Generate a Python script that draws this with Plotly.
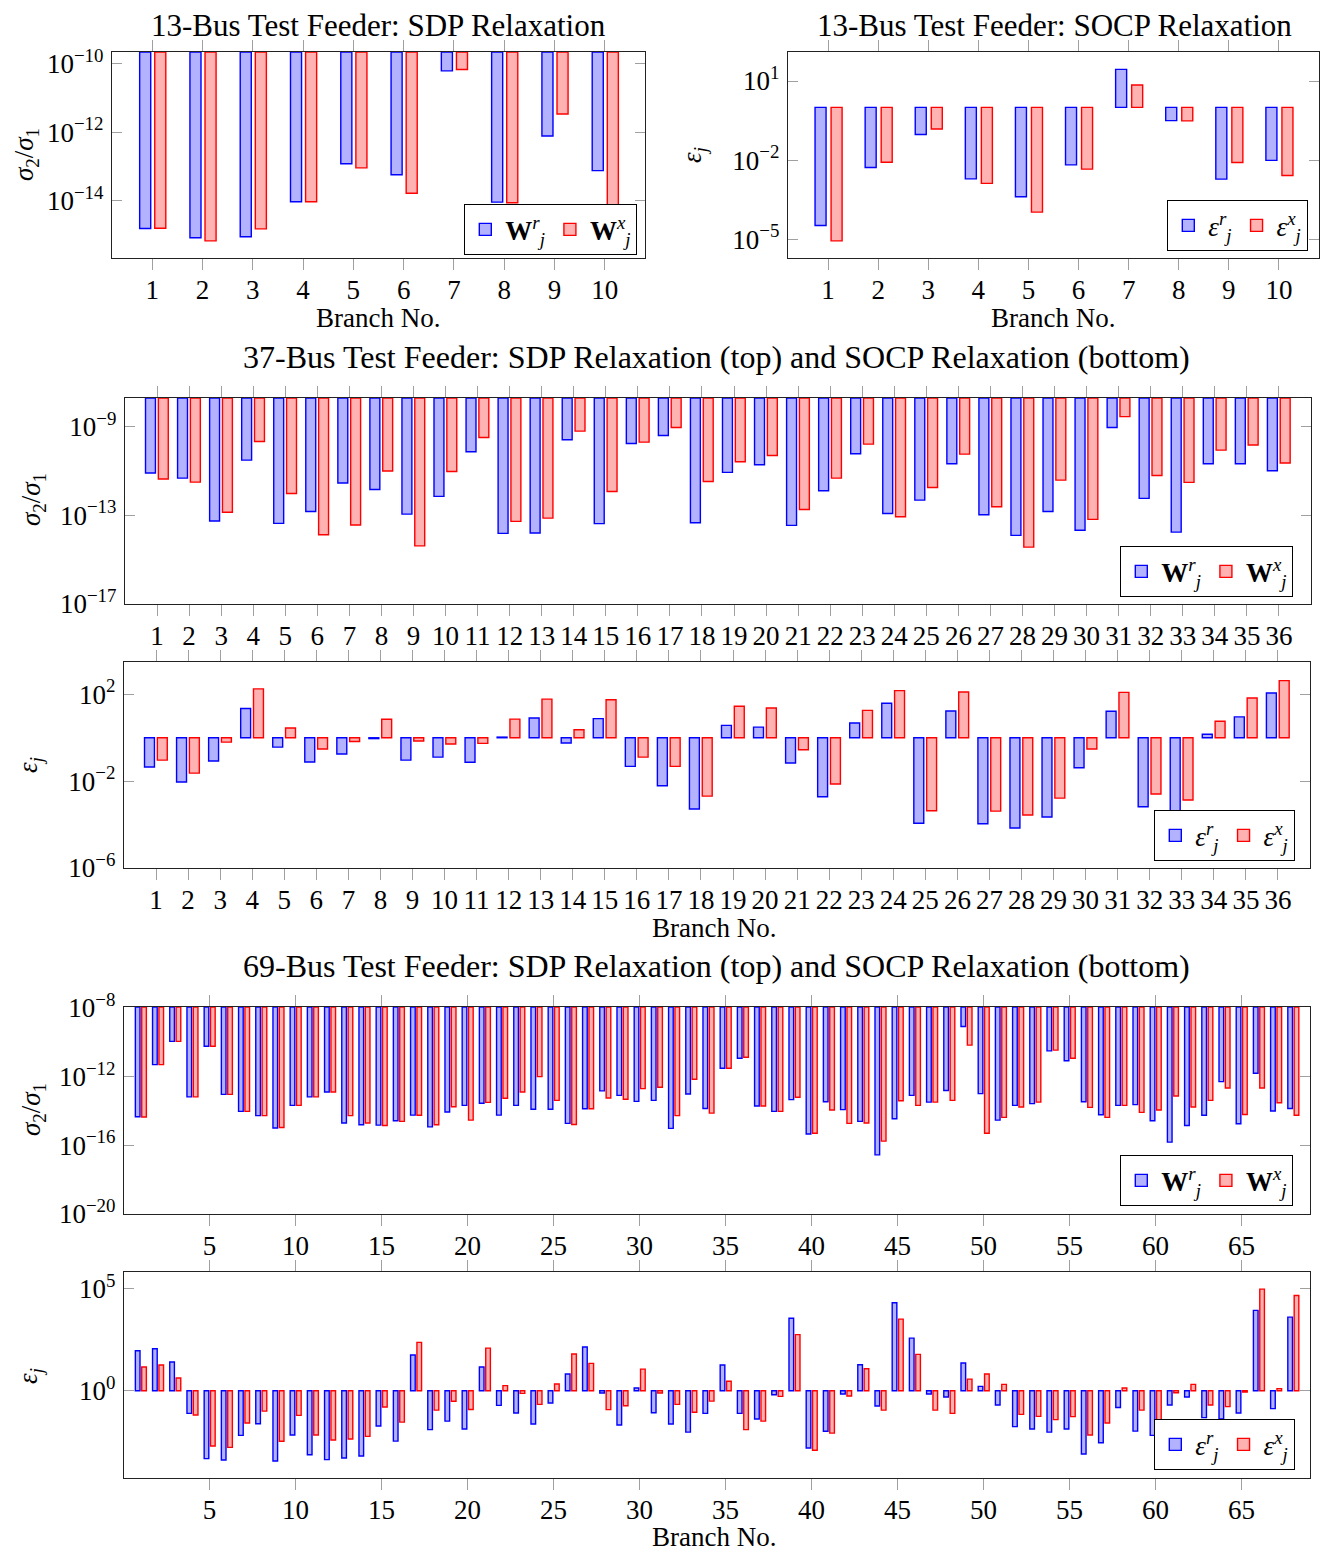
import plotly.graph_objects as go

FONT = "Liberation Serif"
# page body has an 8px margin; the figure starts at (8, 8) in the window
OX, OY = 8, 8
W, H = 1335 - OX, 1551 - OY

# ---------------- data (log10 of the plotted values) ----------------
branches13 = list(range(1, 11))
branches37 = list(range(1, 37))
branches69 = list(range(1, 69))

# 13-bus, SDP relaxation: sigma2/sigma1
sdp13_wr = [-14.81, -15.08, -15.05, -14.03, -12.92, -13.24, -10.21, -14.04, -12.11, -13.12]
sdp13_wx = [-14.80, -15.17, -14.82, -14.03, -13.04, -13.78, -10.17, -14.06, -11.47, -14.17]
# 13-bus, SOCP relaxation: epsilon_j
socp13_er = [-4.48, -2.28, -1.03, -2.71, -3.39, -2.18, 1.44, -0.50, -2.72, -2.01]
socp13_ex = [-5.06, -2.08, -0.82, -2.88, -3.97, -2.34, 0.85, -0.51, -2.09, -2.58]

# 37-bus, SDP relaxation
sdp37_wr = [-11.10, -11.33, -13.26, -10.52, -13.37, -12.83, -11.55, -11.84, -12.95, -12.15,
            -10.14, -13.82, -13.80, -9.60, -13.38, -9.77, -9.41, -13.34, -11.07, -10.73,
            -13.46, -11.90, -10.23, -12.92, -12.32, -10.68, -12.98, -13.91, -12.83, -13.68,
            -9.05, -12.24, -13.76, -10.68, -10.68, -11.00]
sdp37_wx = [-11.37, -11.51, -12.87, -9.68, -12.02, -13.88, -13.44, -11.01, -14.38, -11.03,
            -9.50, -13.28, -13.13, -9.21, -11.93, -9.71, -9.05, -11.48, -10.59, -10.31,
            -12.74, -11.33, -9.80, -13.07, -11.75, -10.25, -12.62, -14.44, -11.42, -13.19,
            -8.56, -11.21, -11.52, -10.07, -9.84, -10.65]
# 37-bus, SOCP relaxation
socp37_er = [-1.35, -2.04, -1.07, 1.35, -0.43, -1.12, -0.75, -0.04, -1.03, -0.89,
             -1.13, 0.03, 0.91, -0.24, 0.88, -1.32, -2.21, -3.28, 0.57, 0.49,
             -1.16, -2.72, 0.68, 1.59, -3.94, 1.23, -3.96, -4.16, -3.65, -1.38,
             1.22, -3.18, -3.45, 0.16, 0.96, 2.06]
socp37_ex = [-1.03, -1.63, -0.20, 2.25, 0.45, -0.52, -0.17, 0.85, -0.15, -0.29,
             -0.26, 0.86, 1.78, 0.37, 1.75, -0.89, -1.32, -2.69, 1.45, 1.37,
             -0.55, -2.13, 1.26, 2.17, -3.36, 2.11, -3.38, -3.56, -2.78, -0.52,
             2.09, -2.59, -2.87, 0.76, 1.83, 2.63]

# 69-bus, SDP relaxation
sdp69_wr = [-14.34, -11.31, -9.96, -13.19, -10.24, -13.04, -14.03, -14.28, -15.00, -13.68,
            -13.19, -12.90, -14.71, -14.81, -14.83, -14.58, -14.25, -14.93, -14.07, -13.68,
            -13.56, -14.25, -13.68, -13.91, -13.91, -14.73, -13.88, -12.84, -13.10, -13.45,
            -13.39, -15.02, -13.02, -13.86, -11.52, -10.94, -13.72, -14.03, -13.35, -15.35,
            -13.47, -13.93, -14.61, -16.56, -14.46, -13.10, -13.49, -12.82, -9.09, -13.00,
            -14.54, -13.68, -13.58, -10.51, -11.09, -13.47, -14.23, -13.68, -13.64, -14.58,
            -15.82, -14.85, -14.26, -12.30, -14.75, -11.81, -14.01, -13.86]
sdp69_wx = [-14.36, -11.31, -9.96, -13.19, -10.24, -13.04, -14.03, -14.28, -14.97, -13.68,
            -13.19, -12.90, -14.28, -14.71, -14.85, -14.61, -14.26, -14.81, -13.76, -14.54,
            -13.51, -13.27, -12.90, -12.01, -13.39, -14.79, -13.88, -13.25, -13.33, -12.71,
            -12.63, -14.28, -12.16, -14.13, -11.52, -10.88, -13.72, -14.03, -13.21, -15.30,
            -13.95, -14.73, -14.71, -15.76, -13.41, -13.68, -13.49, -13.39, -10.18, -15.30,
            -14.38, -13.78, -13.49, -10.47, -10.94, -13.80, -14.38, -13.68, -14.09, -13.95,
            -13.14, -13.78, -13.39, -12.67, -14.21, -12.67, -13.53, -14.26]
# 69-bus, SOCP relaxation
socp69_er = [1.96, 2.06, 1.41, -1.11, -3.33, -3.40, -2.19, -1.62, -3.45, -2.17,
             -3.14, -3.38, -3.30, -3.20, -1.73, -2.47, 1.75, -1.91, -1.49, -1.88,
             1.16, -0.72, -1.09, -1.63, -0.60, 0.82, 2.14, -0.11, -1.68, 0.13,
             -1.08, -1.63, -2.03, -1.11, 1.26, -1.11, -1.39, -0.20, 3.55, -2.81,
             -1.99, -0.16, 1.27, -0.75, 4.31, 2.58, -0.16, -0.31, 1.36, 0.21,
             -0.70, -1.76, -1.88, -2.03, -1.88, -3.10, -2.55, -0.82, -1.98, -2.19,
             -0.70, -0.31, -1.32, -1.39, -1.09, 3.94, -0.88, 3.61]
socp69_ex = [1.16, 1.26, 0.62, -1.19, -2.71, -2.78, -1.58, -1.00, -2.48, -1.21,
             -2.17, -2.42, -2.37, -2.24, -0.80, -1.54, 2.37, -0.95, -0.52, -0.92,
             2.09, 0.25, -0.13, -0.67, 0.33, 1.80, 1.34, -0.93, -0.74, 1.06,
             -0.11, -0.67, -1.06, -0.51, 0.46, -1.91, -1.49, -0.28, 2.75, -2.92,
             -2.08, -0.26, 1.08, -0.95, 3.51, 1.78, -0.95, -1.11, 0.57, 0.82,
             0.31, -1.16, -1.26, -1.42, -1.27, -2.17, -1.58, 0.13, -0.95, -1.58,
             -0.10, 0.31, -0.70, -0.78, -0.07, 4.98, 0.10, 4.67]

ticks69 = [5, 10, 15, 20, 25, 30, 35, 40, 45, 50, 55, 60, 65]

# ---------------- styles ----------------
BLUE_FILL, BLUE_LINE = "rgba(0,0,255,0.30)", "#0000ff"
RED_FILL, RED_LINE = "rgba(255,0,0,0.30)", "#ff0000"
TICK_COL = "#a0a0a0"
LBL = 27

W_R = "<b>W</b><sup><i>r</i></sup><sub><i>j</i></sub>"
W_X = "<b>W</b><sup><i>x</i></sup><sub><i>j</i></sub>"
E_R = "<i>ε</i><sup><i>r</i></sup><sub><i>j</i></sub>"
E_X = "<i>ε</i><sup><i>x</i></sup><sub><i>j</i></sub>"
SIG = "<i>σ</i><sub>2</sub>/<i>σ</i><sub>1</sub>"
EPS = "<i>ε</i><sub><i>j</i></sub>"


def sup(e):
    return "10<sup>" + (str(e).replace("-", "−")) + "</sup>"


def px(x):
    return (x - OX) / W


def py(y):
    return 1 - (y - OY) / H


# panel: pixel box (left, top, right, bottom), x range, log y range, base exponent,
# bar width / offsets, x ticks, y tick exponents, legend names, legend box (right, bottom)
panels = [
    dict(box=(112, 52, 645, 258), xr=[0.2, 10.8], yr=[-15.67, -9.66], base=-9.66,
         x=branches13, r=sdp13_wr, xx=sdp13_wx, w=0.22, offr=-0.25, offx=0.05,
         xt=branches13, yt=[-10, -12, -14], names=(W_R, W_X), leg=(637, 255)),
    dict(box=(788, 52, 1319, 258), xr=[0.2, 10.8], yr=[-5.71, 2.10], base=0,
         x=branches13, r=socp13_er, xx=socp13_ex, w=0.22, offr=-0.26, offx=0.06,
         xt=branches13, yt=[1, -2, -5], names=(E_R, E_X), leg=(1308, 251)),
    dict(box=(125, 398, 1311, 604), xr=[0, 37], yr=[-17, -7.72], base=-7.72,
         x=branches37, r=sdp37_wr, xx=sdp37_wx, w=0.31, offr=-0.36, offx=0.04,
         xt=branches37, yt=[-9, -13, -17], names=(W_R, W_X), leg=(1293, 597)),
    dict(box=(124, 662, 1310, 868), xr=[0, 37], yr=[-6, 3.49], base=0,
         x=branches37, r=socp37_er, xx=socp37_ex, w=0.31, offr=-0.36, offx=0.04,
         xt=branches37, yt=[2, -2, -6], names=(E_R, E_X), leg=(1295, 861)),
    dict(box=(124, 1007, 1310, 1214), xr=[0.03, 68.98], yr=[-20, -7.96], base=-7.96,
         x=branches69, r=sdp69_wr, xx=sdp69_wx, w=0.27, offr=-0.31, offx=0.06,
         xt=ticks69, yt=[-8, -12, -16, -20], names=(W_R, W_X), leg=(1293, 1206)),
    dict(box=(124, 1272, 1310, 1478), xr=[0.03, 68.98], yr=[-4.28, 5.82], base=0,
         x=branches69, r=socp69_er, xx=socp69_ex, w=0.27, offr=-0.31, offx=0.06,
         xt=ticks69, yt=[5, 0], names=(E_R, E_X), leg=(1295, 1470)),
]

fig = go.Figure()
layout = dict(
    width=W, height=H, autosize=False,
    margin=dict(l=0, r=0, t=0, b=0, pad=0, autoexpand=False),
    paper_bgcolor="white", plot_bgcolor="white",
    barmode="overlay", showlegend=True,
    font=dict(family=FONT, size=LBL, color="black"),
)

for i, p in enumerate(panels, start=1):
    sfx = "" if i == 1 else str(i)
    l, t, r, b = p["box"]
    base_val = 10 ** p["base"]
    leg_key = "legend" if i == 1 else f"legend{i}"
    for vals, name, fill, line, off in [
        (p["r"], p["names"][0], BLUE_FILL, BLUE_LINE, p["offr"]),
        (p["xx"], p["names"][1], RED_FILL, RED_LINE, p["offx"]),
    ]:
        v = [10 ** e for e in vals]
        fig.add_trace(go.Bar(
            x=p["x"], y=[vv - base_val for vv in v], base=base_val,
            width=p["w"], offset=off, name=name,
            marker=dict(color=fill, line=dict(color=line, width=1.4)),
            xaxis="x" + sfx, yaxis="y" + sfx, legend=leg_key,
            customdata=v, hovertemplate="%{x}: %{customdata:.2e}<extra></extra>",
        ))
    layout["xaxis" + sfx] = dict(
        domain=[px(l), px(r)], range=p["xr"], anchor="y" + sfx,
        tickmode="array", tickvals=p["xt"], ticktext=[str(v) for v in p["xt"]],
        ticks="outside", ticklen=11, tickwidth=1.2, tickcolor=TICK_COL,
        showline=True, linecolor="#222", linewidth=1.3, mirror="ticks",
        showgrid=False, zeroline=False, fixedrange=True, automargin=False,
        ticklabelstandoff=-4,
        tickfont=dict(family=FONT, size=LBL, color="black"),
    )
    layout["yaxis" + sfx] = dict(
        domain=[py(b), py(t)], type="log", range=p["yr"], anchor="x" + sfx,
        tickmode="array", tickvals=[10 ** e for e in p["yt"]],
        ticktext=[sup(e) for e in p["yt"]],
        ticks="inside", ticklen=10, tickwidth=1.2, tickcolor=TICK_COL,
        showline=True, linecolor="#222", linewidth=1.3, mirror="ticks",
        showgrid=False, zeroline=False, fixedrange=True, automargin=False,
        ticklabelstandoff=2,
        tickfont=dict(family=FONT, size=LBL, color="black"),
    )
    lr, lb = p["leg"]
    layout[leg_key] = dict(
        x=px(lr), y=py(lb), xanchor="right", yanchor="bottom",
        orientation="h", bgcolor="white", bordercolor="black", borderwidth=1.3,
        font=dict(family=FONT, size=LBL, color="black"),
        itemwidth=30, tracegroupgap=0,
    )

ann = []


def txt(x, y, s, size=LBL, angle=0):
    ann.append(dict(text=s, x=px(x), y=py(y), xref="paper", yref="paper",
                    showarrow=False, xanchor="center", yanchor="middle",
                    textangle=angle, font=dict(family=FONT, size=size, color="black")))


TS = 32
txt(378, 26, "13-Bus Test Feeder: SDP Relaxation", 31)
txt(1054, 26, "13-Bus Test Feeder: SOCP Relaxation", 31)
txt(716, 357, "37-Bus Test Feeder: SDP Relaxation (top) and SOCP Relaxation (bottom)", TS)
txt(716, 966, "69-Bus Test Feeder: SDP Relaxation (top) and SOCP Relaxation (bottom)", TS)
txt(378, 318, "Branch No.")
txt(1053, 318, "Branch No.")
txt(714, 928, "Branch No.")
txt(714, 1537, "Branch No.")
txt(26, 155, SIG, angle=-90)
txt(694, 155, EPS, angle=-90)
txt(33, 500, SIG, angle=-90)
txt(30, 765, EPS, angle=-90)
txt(33, 1110, SIG, angle=-90)
txt(30, 1376, EPS, angle=-90)
layout["annotations"] = ann

fig.update_layout(**layout)
fig.write_html("out.html")
